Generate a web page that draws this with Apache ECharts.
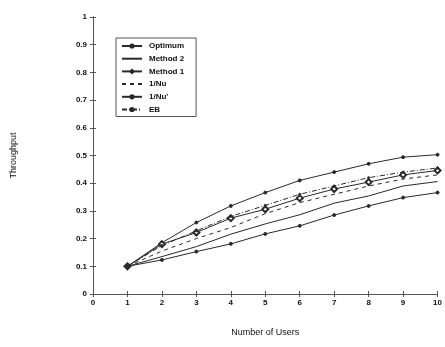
<!DOCTYPE html>
<html>
<head>
<meta charset="utf-8">
<script src="https://cdn.jsdelivr.net/npm/echarts@6/dist/echarts.min.js"></script>
<style>html,body{margin:0;padding:0;background:#fff;}#c{width:445px;height:347px;}</style>
</head>
<body>
<div id="c"></div>
<script>
const users = [1, 2, 3, 4, 5, 6, 7, 8, 9, 10];
const xTicks = [0, 1, 2, 3, 4, 5, 6, 7, 8, 9, 10];
const yTicks = [0, 0.1, 0.2, 0.3, 0.4, 0.5, 0.6, 0.7, 0.8, 0.9, 1];
const optimum = [0.1, 0.185, 0.258, 0.318, 0.366, 0.41, 0.44, 0.47, 0.494, 0.503];
const method2 = [0.1, 0.135, 0.171, 0.216, 0.253, 0.286, 0.328, 0.354, 0.39, 0.406];
const method1 = [0.1, 0.18, 0.222, 0.274, 0.306, 0.346, 0.379, 0.404, 0.43, 0.446];
const nu = [0.1, 0.155, 0.2, 0.24, 0.29, 0.33, 0.36, 0.39, 0.415, 0.43];
const nuPrime = [0.1, 0.123, 0.153, 0.181, 0.217, 0.246, 0.285, 0.318, 0.348, 0.366];
const eb = [0.1, 0.175, 0.228, 0.28, 0.32, 0.36, 0.39, 0.42, 0.44, 0.455];

const C = '#2a2a2a';
const font = 'Liberation Sans, Arial, sans-serif';
function pts(v){ return users.map((u,i)=>[u, v[i]]); }
function ser(name, data, type, symbol, size){
  return {
    name, type:'line', data: pts(data), symbol, symbolSize: size, showSymbol: symbol !== 'none',
    lineStyle:{color:C, width:1, type},
    itemStyle:{color:C, borderColor:C, borderWidth:1},
    animation:false, z: 3
  };
}
const chart = echarts.init(document.getElementById('c'), null, {renderer:'canvas'});
const tickLabel = {color:'#111', fontSize:8, fontWeight:'bold', fontFamily:font};
chart.setOption({
  backgroundColor:'#fff',
  animation:false,
  grid:{left:93, right:6, top:17, bottom:53, show:false},
  xAxis:[{
    type:'value', min:0, max:10, interval:1, position:'bottom',
    axisLine:{show:true, lineStyle:{color:'#555', width:1}},
    axisTick:{show:true, inside:true, length:3, lineStyle:{color:'#555'}},
    axisLabel:Object.assign({margin:5, formatter:v=>String(v)}, tickLabel),
    splitLine:{show:false},
    name:'Number of Users', nameLocation:'middle', nameGap:34,
    nameTextStyle:{color:'#111', fontSize:9, fontFamily:font}
  },{
    type:'value', min:0, max:10, interval:1, position:'top',
    axisLine:{show:true, lineStyle:{color:'#555', width:1}},
    axisTick:{show:true, inside:true, length:3, lineStyle:{color:'#555'}},
    axisLabel:{show:false}, splitLine:{show:false}
  }],
  yAxis:[{
    type:'value', min:0, max:1, interval:0.1, position:'left',
    axisLine:{show:true, lineStyle:{color:'#555', width:1}},
    axisTick:{show:true, inside:true, length:3, lineStyle:{color:'#555'}},
    axisLabel:Object.assign({margin:6, formatter:v=>{const t=yTicks.find(k=>Math.abs(k-v)<1e-6); return t===undefined?'':String(t);}}, tickLabel),
    splitLine:{show:false},
    name:'Throughput', nameLocation:'middle', nameGap:75, nameRotate:90,
    nameTextStyle:{color:'#111', fontSize:9, fontFamily:font}
  },{
    type:'value', min:0, max:1, interval:0.1, position:'right',
    axisLine:{show:true, lineStyle:{color:'#555', width:1}},
    axisTick:{show:true, inside:true, length:3, lineStyle:{color:'#555'}},
    axisLabel:{show:false}, splitLine:{show:false}
  }],
  legend:{
    show:true, orient:'vertical', left:116, top:38,
    padding:[4,12,3,5], itemGap:4.7, itemWidth:20, itemHeight:4,
    backgroundColor:'#fff', borderColor:'#555', borderWidth:1,
    textStyle:{color:'#111', fontSize:8, fontWeight:'bold', fontFamily:font, padding:[0,0,0,2]},
    data:[
      {name:'Optimum'},
      {name:'Method 2', itemStyle:{opacity:0}},
      {name:'Method 1'},
      {name:'1/Nu', itemStyle:{opacity:0}},
      {name:"1/Nu'"},
      {name:'EB'}
    ]
  },
  series:[
    ser('Optimum', optimum, 'solid', 'circle', 3),
    ser('Method 2', method2, 'solid', 'none', 0),
    ser('Method 1', method1, 'solid', 'emptyDiamond', 6),
    ser('1/Nu', nu, [4,4], 'none', 0),
    ser("1/Nu'", nuPrime, 'solid', 'circle', 3),
    ser('EB', eb, [5,2,1,2], 'circle', 2)
  ]
});
</script>
</body>
</html>
